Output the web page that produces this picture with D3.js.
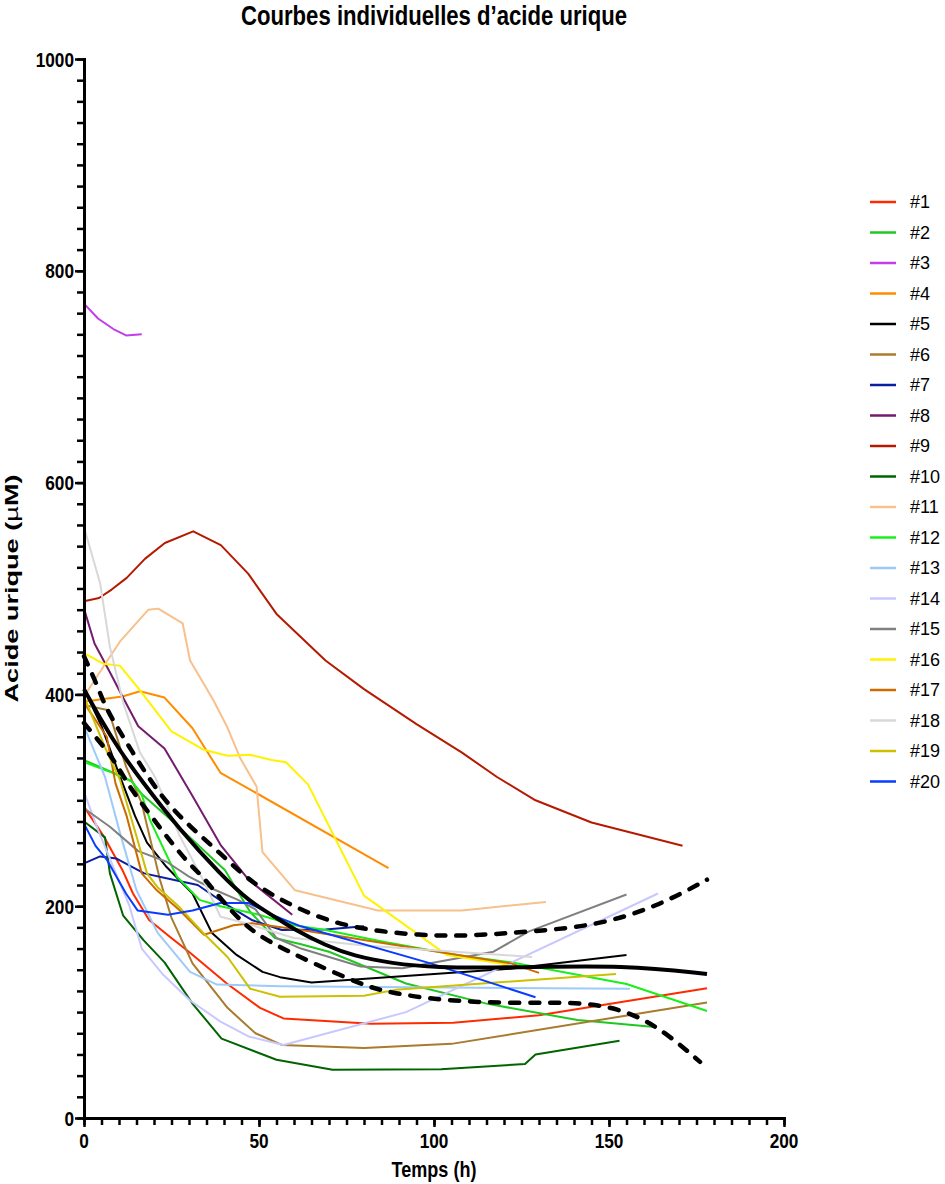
<!DOCTYPE html>
<html>
<head>
<meta charset="utf-8">
<script src="https://cdn.jsdelivr.net/npm/d3@7"></script>
<style>
  body { margin: 0; background: #fff; }
  text { font-family: "Liberation Sans", Arial, Helvetica, sans-serif; fill: #000; }
</style>
</head>
<body>
<div id="chart"></div>
<script>
var svgWidth = 945;
var svgHeight = 1184;

var margin = { top: 59, right: 161, bottom: 66, left: 84 };
var width = svgWidth - margin.left - margin.right;
var height = svgHeight - margin.top - margin.bottom;

// Data: [hours, uric acid µM]
var labels = ["#1", "#2", "#3", "#4", "#5", "#6", "#7", "#8", "#9", "#10",
  "#11", "#12", "#13", "#14", "#15", "#16", "#17", "#18", "#19", "#20"];
var colors = ["#ff2a00", "#1fc81f", "#c03fe8", "#ff8c00", "#000000", "#a87b2e", "#0a1fa0",
  "#741b6e", "#b51a00", "#006400", "#f8c08c", "#18f018", "#9ccbfa", "#c8c8ff",
  "#808080", "#fff200", "#cc6a00", "#d8d8d8", "#ccc000", "#0a3cff"];

var s1 = [[0,294],[6,264],[11,234],[14,212],[18.6,187],[24.6,171],[30.3,156],[40.8,127],[50.3,104],[57,94],[82,89],[105.5,90],[130,97],[178,122.5]];
var s2 = [[0,338],[7,328],[13.6,318],[16.5,306],[26,278],[40.3,234],[47.4,195],[54.5,170],[62,164],[70,157],[76,149],[92,127],[115,108],[141,92.5],[163,86]];
var s3 = [[0,769],[4,755],[8.4,745],[12,739],[16.5,740]];
var s4 = [[0,393],[4,395],[11,398],[16,403],[23,397],[31,368],[39,326],[87,236]];
var s5 = [[0,405],[5,370],[10,325],[14.6,285],[18,260],[23.6,237],[31,212],[36.5,175],[43.6,154],[51,138],[56,133],[65,128],[122,141],[155,154]];
var s6 = [[0,390],[7,385],[12,332],[16.5,297],[21.7,225],[25,189],[31,146],[41,104],[49,80],[56.5,69],[80,66],[105,70],[178,109]];
var s7 = [[0,240.5],[4.6,247],[9.3,245],[17.2,231],[25.5,225],[32.5,220],[40,203],[47.9,187],[56.5,177.5],[69,178],[80,181]];
var s8 = [[0,481],[3,448],[7.4,421],[11,398],[15.5,370],[23,349],[31,304],[39,258],[47,225],[59.5,192]];
var s9 = [[0,488],[4.3,491],[7.9,499],[12.2,510],[17.4,528],[23.1,543],[31.2,554],[39.1,541],[46.9,514],[55,476],[69,432],[80,405],[95,372],[108,345],[118,322],[129,300],[145,279],[171,257]];
var s10 = [[0,280],[6,265],[7.4,231],[11.2,191],[17,168],[23,147],[31,108],[39.3,75],[55,55],[71,45.5],[102,46],[126,51],[129,60],[153,73]];
var s11 = [[0,398],[6.5,431],[10.3,450],[18.4,480],[21.2,481],[28.2,467],[30.3,432],[36.9,395],[40.8,370],[44.6,340],[47.4,324],[49.3,313],[51,251],[60.3,215],[84,196],[108,196],[132,204]];
var s12 = [[0,336],[7.4,327],[13.6,318],[16.5,305],[18.9,281],[26.5,228],[33,206],[39,200],[50,192],[60,182],[69,177.5],[85.5,166.5],[106.5,154],[122,147],[155,126.5],[178,101]];
var s13 = [[0,370],[6,322],[10.3,269],[15,215],[21,175],[30.3,138],[38,126],[56,124.5],[156,122]];
var s14 = [[0,308],[4,272],[9,232],[13,200],[16.5,160],[22.7,135],[30.3,111],[39,91],[47,77],[57,69],[92,100],[164,212]];
var s15 = [[0,292.5],[7.4,275],[15.5,252],[23.6,242],[30,228],[37,216],[44,206],[49,197],[55,170],[62,160],[79,143],[91,141.5],[117,157],[127,176],[155,211]];
var s16 = [[0,439],[5.5,429],[10.3,427],[15.5,406],[25,365],[34,348],[41,342],[47.5,343],[53.6,338],[57.7,336],[64,315],[80,210],[103.6,154],[121,145]];
var s17 = [[0,392],[6.5,360],[9,316],[12.2,285],[16.5,231],[20.8,215],[27.4,196],[34.3,173],[42.7,182],[48,184],[62,177.5],[122,146],[130,137]];
var s18 = [[0,558],[4.6,505],[7.4,445],[11.2,392],[16,345],[20.3,322],[27.4,266],[34,225],[39,190],[45,185],[60,170],[80,163],[128,152]];
var s19 = [[0,398],[6,350],[10.3,319],[15,266],[18,231],[21,218],[27,200],[34,175],[41,152],[47.5,122],[56,114.5],[80,115.5],[89,121],[152,136]];
var s20 = [[0,278],[3.3,257],[6.5,244],[12,212],[15.3,196],[24,192],[31,196],[39,203],[47,203],[55,190],[62,181],[99,146],[129,114]];

// fitted mean curve and its confidence band
var fitMean = [[0,405],[5,375],[10,348],[16.5,318],[27.4,272],[39,230],[47.4,204],[54.6,190],[60,178],[69,163],[77,153],[88,146],[100,142],[122,142],[155,144.5],[178,136]];
var fitUpper = [[0,436],[3.6,410],[6,389],[9.3,370],[13,350],[21.7,304],[30.3,275],[39,250],[48,221],[61.7,196],[76,179],[97,172],[110,172],[128,176],[147,182],[164,200],[178,225]];
var fitLower = [[0,373],[4,357],[7,345],[10,330],[13.5,310],[20.8,278],[29,243],[34,228],[39,207],[47,178],[55,163],[61.7,152],[71,138],[81,124],[88,118],[102,111],[123,108],[144,110],[157,99],[166.5,80],[176,53]];

var series = [s1, s2, s3, s4, s5, s6, s7, s8, s9, s10, s11, s12, s13, s14, s15, s16, s17, s18, s19, s20];

var xTicks = [0, 50, 100, 150, 200];
var yTicks = [0, 200, 400, 600, 800, 1000];

var svg = d3.select("#chart")
  .append("svg")
  .attr("width", svgWidth)
  .attr("height", svgHeight);

var chartGroup = svg.append("g")
  .attr("transform", `translate(${margin.left}, ${margin.top})`);

// Scales
var xScale = d3.scaleLinear().domain([0, 200]).range([0, width]);
var yScale = d3.scaleLinear().domain([0, 1000]).range([height, 0]);

// Individual curves (straight segments)
var line = d3.line()
  .x(d => xScale(d[0]))
  .y(d => yScale(d[1]));

var smooth = d3.line()
  .x(d => xScale(d[0]))
  .y(d => yScale(d[1]))
  .curve(d3.curveBasis);

chartGroup.append("g")
  .selectAll("path")
  .data(series)
  .enter()
  .append("path")
  .attr("d", line)
  .attr("fill", "none")
  .attr("stroke", (d, i) => colors[i])
  .attr("stroke-width", 2)
  .attr("stroke-linejoin", "round");

// Fit + band on top
chartGroup.append("path")
  .attr("d", smooth(fitMean))
  .attr("fill", "none")
  .attr("stroke", "#000")
  .attr("stroke-width", 4);

chartGroup.selectAll(".band")
  .data([fitUpper, fitLower])
  .enter()
  .append("path")
  .attr("class", "band")
  .attr("d", smooth)
  .attr("fill", "none")
  .attr("stroke", "#000")
  .attr("stroke-width", 4.5)
  .attr("stroke-linecap", "round")
  .attr("stroke-dasharray", "9,11");

// Axes: tick marks from d3, labels drawn separately (narrow bold face)
function styleAxis(g) {
  g.select(".domain").attr("stroke-width", 3).attr("stroke-linecap", "square");
  g.selectAll(".tick line").attr("stroke-width", 2.5);
}

chartGroup.append("g")
  .attr("transform", `translate(0, ${height})`)
  .call(d3.axisBottom(xScale).tickValues(d3.range(0, 201, 5)).tickSize(7).tickSizeOuter(0).tickFormat(""))
  .call(styleAxis);

chartGroup.append("g")
  .attr("transform", `translate(0, ${height})`)
  .call(d3.axisBottom(xScale).tickValues(xTicks).tickSize(9).tickSizeOuter(0).tickFormat(""))
  .call(styleAxis);

chartGroup.append("g")
  .call(d3.axisLeft(yScale).tickValues(d3.range(0, 1001, 20)).tickSize(7).tickSizeOuter(0).tickFormat(""))
  .call(styleAxis);

chartGroup.append("g")
  .call(d3.axisLeft(yScale).tickValues(yTicks).tickSize(9).tickSizeOuter(0).tickFormat(""))
  .call(styleAxis);

var narrow = 0.82;

chartGroup.selectAll(".xlab")
  .data(xTicks)
  .enter()
  .append("text")
  .attr("class", "xlab")
  .attr("transform", d => `translate(${xScale(d)}, ${height + 29.5}) scale(${narrow},1)`)
  .attr("text-anchor", "middle")
  .attr("font-size", "21px")
  .attr("font-weight", "bold")
  .text(d => d);

chartGroup.selectAll(".ylab")
  .data(yTicks)
  .enter()
  .append("text")
  .attr("class", "ylab")
  .attr("transform", d => `translate(-10, ${yScale(d)}) scale(${narrow},1)`)
  .attr("text-anchor", "end")
  .attr("dy", "0.36em")
  .attr("font-size", "21px")
  .attr("font-weight", "bold")
  .text(d => d);

// Title and axis titles
svg.append("text")
  .attr("transform", `translate(${margin.left + width / 2}, 25) scale(${narrow},1)`)
  .attr("text-anchor", "middle")
  .attr("font-size", "27px")
  .attr("font-weight", "bold")
  .text("Courbes individuelles d\u2019acide urique");

svg.append("text")
  .attr("transform", `translate(${margin.left + width / 2}, 1177) scale(${narrow},1)`)
  .attr("text-anchor", "middle")
  .attr("font-size", "22px")
  .attr("font-weight", "bold")
  .text("Temps (h)");

var yLabel = svg.append("text")
  .attr("transform", `translate(18, ${margin.top + height / 2}) rotate(-90) scale(1.55,1)`)
  .attr("text-anchor", "middle")
  .attr("font-size", "17.5px")
  .attr("font-weight", "bold");
yLabel.append("tspan").text("Acide urique (");
yLabel.append("tspan").attr("font-weight", "normal").text("\u00b5");
yLabel.append("tspan").text("M)");

// Legend
var legend = svg.append("g")
  .attr("transform", "translate(870, 202)");

var items = legend.selectAll("g")
  .data(labels)
  .enter()
  .append("g")
  .attr("transform", (d, i) => `translate(0, ${i * 30.5})`);

items.append("line")
  .attr("x1", 0)
  .attr("x2", 26)
  .attr("stroke", (d, i) => colors[i])
  .attr("stroke-width", 2.5);

items.append("text")
  .attr("x", 40)
  .attr("dy", "0.36em")
  .attr("font-size", "18px")
  .text(d => d);
</script>
</body>
</html>
